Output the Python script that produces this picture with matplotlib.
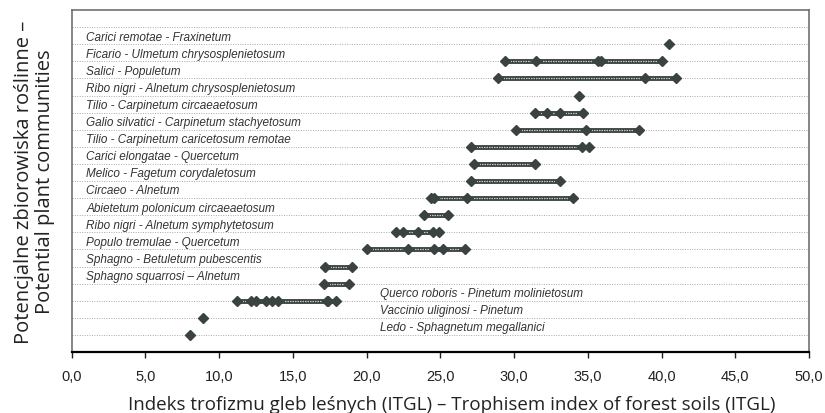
import matplotlib.pyplot as plt
from matplotlib.ticker import FuncFormatter, MultipleLocator

# plant communities, top to bottom, and their ITGL values
communities = [
    'Carici remotae - Fraxinetum',
    'Ficario - Ulmetum chrysosplenietosum',
    'Salici - Populetum',
    'Ribo nigri - Alnetum chrysosplenietosum',
    'Tilio - Carpinetum circaeaetosum',
    'Galio silvatici - Carpinetum stachyetosum',
    'Tilio - Carpinetum caricetosum remotae',
    'Carici elongatae - Quercetum',
    'Melico - Fagetum corydaletosum',
    'Circaeo - Alnetum',
    'Abietetum polonicum circaeaetosum',
    'Ribo nigri - Alnetum symphytetosum',
    'Populo tremulae - Quercetum',
    'Sphagno - Betuletum pubescentis',
    'Sphagno squarrosi – Alnetum',
    'Querco roboris - Pinetum molinietosum',
    'Vaccinio uliginosi - Pinetum',
    'Ledo - Sphagnetum megallanici',
]
itgl = [
    [40.5],
    [29.4, 31.5, 35.7, 35.9, 40.0],
    [28.9, 38.9, 41.0],
    [34.4],
    [31.4, 32.2, 33.1, 34.7],
    [30.1, 34.9, 38.5],
    [27.1, 34.6, 35.1],
    [27.3, 31.4],
    [27.1, 33.1],
    [24.4, 24.6, 26.8, 34.0],
    [23.9, 25.5],
    [22.0, 22.5, 23.5, 24.5, 24.9],
    [20.0, 22.8, 24.6, 25.2, 26.7],
    [17.2, 19.0],
    [17.1, 18.8],
    [11.2, 12.2, 12.5, 13.2, 13.6, 14.0, 17.3, 17.4, 17.9],
    [8.9],
    [8.0],
]

dark = '#3a4242'

fig = plt.figure(figsize=(8.25, 4.14), dpi=100)
ax = fig.add_axes([0.0867, 0.1473, 0.894, 0.8261])

n = len(communities)
ax.set_xlim(0, 50)
ax.set_ylim(0, n + 2)

# dotted horizontal guide lines
for yy in range(1, n + 2):
    ax.axhline(yy, color='#a8a8a8', lw=0.7, ls=(0, (1, 1.5)), zorder=1)

for i, (name, vals) in enumerate(zip(communities, itgl)):
    y = n - i
    if len(vals) > 1:
        ax.plot([min(vals), max(vals)], [y, y], color=dark, lw=3.5,
                solid_capstyle='butt', zorder=2)
        ax.plot([min(vals), max(vals)], [y, y], color='#c8c8c8', lw=0.9,
                ls=(0, (1.2, 0.8)), zorder=3)
    ax.plot(vals, [y] * len(vals), 'D', ms=5.5, color=dark, zorder=4)
    lx = 20.9 if y <= 3 else 1.0
    ax.text(lx, y + 0.1, name, fontsize=8.5, style='italic', color='#333333',
            family='Liberation Sans', ha='left', va='bottom')

ax.xaxis.set_major_locator(MultipleLocator(5))
ax.xaxis.set_major_formatter(FuncFormatter(lambda v, p: f'{v:.1f}'.replace('.', ',')))
ax.tick_params(axis='x', direction='out', length=4, width=1, labelsize=10.5, pad=8.5,
               colors='#222222')
for lab in ax.get_xticklabels():
    lab.set_family('Liberation Sans')
ax.tick_params(axis='y', left=False, labelleft=False)

for s in ['top', 'left', 'right']:
    ax.spines[s].set_color('#666666')
    ax.spines[s].set_linewidth(1.1)
ax.spines['bottom'].set_color('black')
ax.spines['bottom'].set_linewidth(1.6)

ax.set_xlabel('Indeks trofizmu gleb leśnych (ITGL) – Trophisem index of forest soils (ITGL)',
              fontsize=13.5, family='Open Sans', color='#222222', va='baseline')
ax.xaxis.set_label_coords(0.516, -0.167)
ax.set_ylabel('Potencjalne zbiorowiska roślinne –\nPotential plant communities',
              fontsize=14.5, family='Open Sans', color='#222222', labelpad=12,
              linespacing=1.05)

fig.savefig('out.png', dpi=100)
